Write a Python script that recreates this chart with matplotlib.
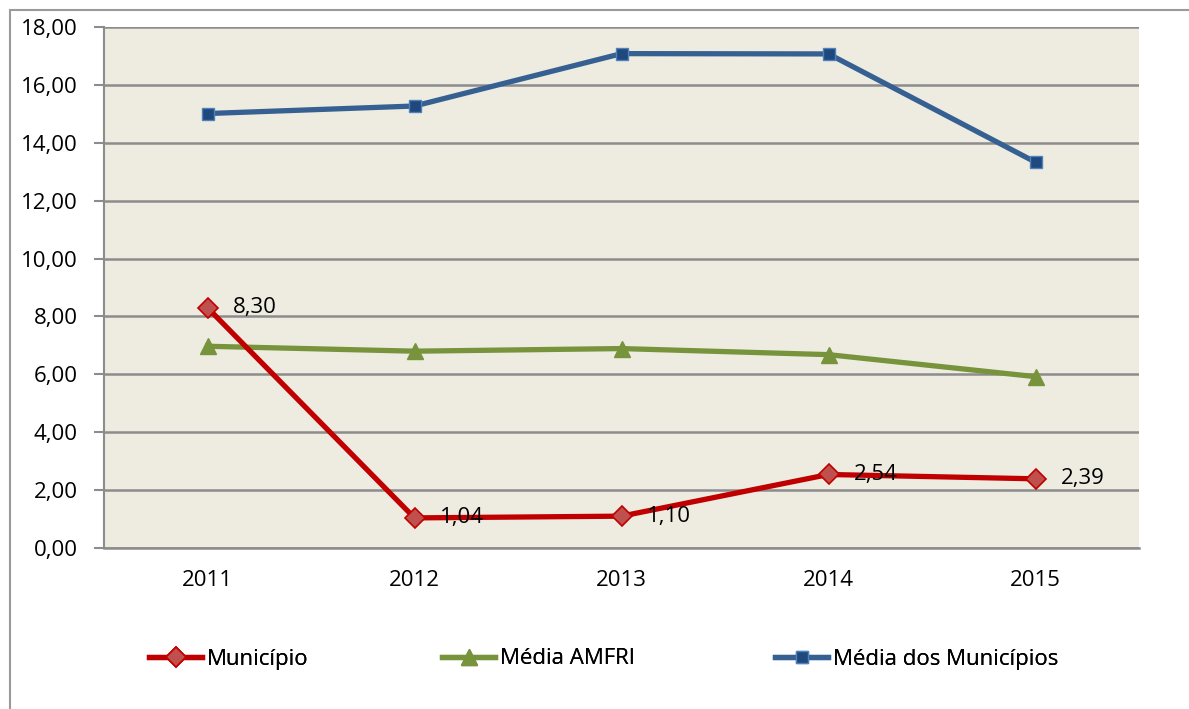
import matplotlib
matplotlib.use("Agg")
import matplotlib.pyplot as plt
from matplotlib.patches import Rectangle
from matplotlib.ticker import FuncFormatter

plt.rcParams['font.family'] = ['Open Sans', 'DejaVu Sans']

years = ["2011", "2012", "2013", "2014", "2015"]
municipio = [8.30, 1.04, 1.10, 2.54, 2.39]
media_amfri = [6.97, 6.80, 6.89, 6.68, 5.92]
media_municipios = [15.01, 15.27, 17.08, 17.07, 13.33]
yticks = [0, 2, 4, 6, 8, 10, 12, 14, 16, 18]

FS = 16

W, H = 1189, 709
fig = plt.figure(figsize=(W / 100, H / 100), dpi=100)
fig.patch.set_facecolor("white")

# outer chart frame (partially cut off)
fig.patches.append(Rectangle((10 / W, -0.05), 1.2, (H - 10) / H + 0.05,
                             transform=fig.transFigure, fill=False,
                             edgecolor="#9a9a9a", linewidth=1.5))

ax = fig.add_axes([104 / W, (H - 548) / H, (1139 - 104) / W, (548 - 27) / H])
ax.set_facecolor("#EEECE1")

x = list(range(len(years)))
ax.plot(x, municipio, color="#C00000", linewidth=3.8, marker="D", markersize=10,
        markerfacecolor="#C0504D", markeredgecolor="#C00000", markeredgewidth=1.2,
        label="Município", zorder=4)
ax.plot(x, media_amfri, color="#77933C", linewidth=3.8, marker="^", markersize=11,
        markerfacecolor="#77933C", markeredgecolor="#77933C",
        label="Média AMFRI", zorder=3)
ax.plot(x, media_municipios, color="#376092", linewidth=3.8, marker="s", markersize=9,
        markerfacecolor="#1F497D", markeredgecolor="#4F81BD", markeredgewidth=1,
        label="Média dos Municípios", zorder=3)

for xi, v in zip(x, municipio):
    ax.annotate(f"{v:.2f}".replace(".", ","), (xi, v), xytext=(18, 0),
                textcoords="offset points", ha="left", va="center",
                fontsize=FS, color="black", zorder=5)

ax.set_xlim(-0.5, len(years) - 0.5)
ax.set_ylim(0, 18)
ax.set_yticks(yticks)
ax.yaxis.set_major_formatter(FuncFormatter(lambda v, p: f"{v:.2f}".replace(".", ",")))
ax.set_xticks(x)
ax.set_xticklabels(years)
ax.grid(axis="y", color="#8c8c8c", linewidth=1.8, zorder=1)
ax.set_axisbelow(True)
ax.tick_params(axis="y", length=7, width=1.5, color="#8c8c8c", labelsize=FS, pad=12)
ax.tick_params(axis="x", length=0, labelsize=FS, pad=16)
for s in ["top", "right"]:
    ax.spines[s].set_visible(False)
ax.spines["left"].set_color("#8c8c8c")
ax.spines["left"].set_linewidth(1.5)
ax.spines["bottom"].set_color("#8c8c8c")
ax.spines["bottom"].set_linewidth(1.8)

handles, labels = ax.get_legend_handles_labels()
xpos = [152, 445, 778]
for h, l, xp in zip(handles, labels, xpos):
    leg = fig.legend([h], [l], loc="center left",
                     bbox_to_anchor=(xp / W - 0.01, (H - 659) / H),
                     frameon=False, fontsize=FS, handlelength=2.4,
                     handletextpad=0.2, borderaxespad=0)
    fig.add_artist(leg)

fig.savefig("out.png", dpi=100)
